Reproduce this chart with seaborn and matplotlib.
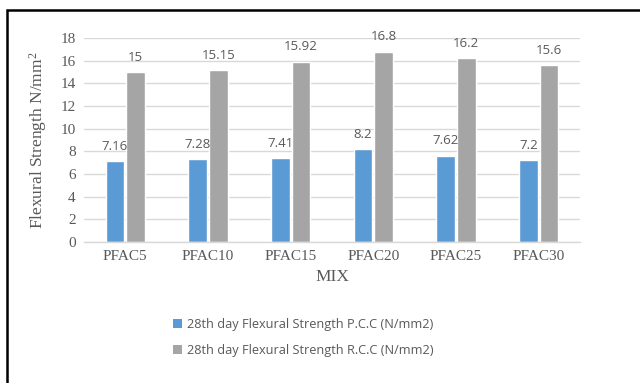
import matplotlib
matplotlib.use("Agg")
import matplotlib.pyplot as plt
from matplotlib.patches import Rectangle, Patch
import seaborn as sns
import pandas as pd

mixes = ["PFAC5", "PFAC10", "PFAC15", "PFAC20", "PFAC25", "PFAC30"]
pcc = [7.16, 7.28, 7.41, 8.2, 7.62, 7.2]
rcc = [15, 15.15, 15.92, 16.8, 16.2, 15.6]
series_names = ["28th day Flexural Strength P.C.C (N/mm2)",
                "28th day Flexural Strength R.C.C (N/mm2)"]
value_labels_pcc = ["7.16", "7.28", "7.41", "8.2", "7.62", "7.2"]
value_labels_rcc = ["15", "15.15", "15.92", "16.8", "16.2", "15.6"]

df = pd.DataFrame({
    "MIX": mixes * 2,
    "value": pcc + rcc,
    "series": [series_names[0]] * len(mixes) + [series_names[1]] * len(mixes),
})

sns.set_theme(style="white")
plt.rcParams["mathtext.fontset"] = "custom"
plt.rcParams["mathtext.rm"] = "Liberation Serif"
plt.rcParams["mathtext.it"] = "Liberation Serif:italic"

text_grey = "#595959"
grid_grey = "#D9D9D9"
colors = ["#5B9BD5", "#A5A5A5"]

fig = plt.figure(figsize=(6.4, 3.83), dpi=100)
ax = fig.add_axes([84 / 640, 1 - 242 / 383, 496 / 640, 204 / 383])

sns.barplot(data=df, x="MIX", y="value", hue="series", hue_order=series_names,
            palette=colors, width=0.5, gap=0.1, saturation=1, ax=ax,
            legend=False, errorbar=None)

ax.set_ylim(0, 18)
ax.set_yticks(range(0, 19, 2))
ax.set_xlim(-0.5, len(mixes) - 0.5)
ax.yaxis.grid(True, color=grid_grey, linewidth=1)
ax.set_axisbelow(True)
for s in ["top", "right", "left"]:
    ax.spines[s].set_visible(False)
ax.spines["bottom"].set_color(grid_grey)
ax.spines["bottom"].set_linewidth(1)
ax.tick_params(axis="both", length=0, colors=text_grey, labelsize=11, pad=6)
for lab in ax.get_xticklabels() + ax.get_yticklabels():
    lab.set_fontfamily("Liberation Serif")

ax.set_xlabel("MIX", fontfamily="Liberation Serif", fontsize=12.5,
              color=text_grey, labelpad=4)
ax.set_ylabel(r"Flexural Strength N/mm$^\mathrm{2}$", fontfamily="Liberation Serif",
              fontsize=12.5, color=text_grey, labelpad=8)

# value labels above each bar
for container, labels in zip(ax.containers, [value_labels_pcc, value_labels_rcc]):
    ax.bar_label(container, labels=labels, padding=6, fontsize=9.5,
                 color=text_grey, fontfamily="Open Sans")

handles = [Patch(facecolor=c, edgecolor="none") for c in colors]
fig.legend(handles, series_names, loc="upper left",
           bbox_to_anchor=(168 / 640, 1 - 313 / 383), frameon=False,
           prop={"family": "Open Sans", "size": 9.2}, labelcolor=text_grey,
           handlelength=0.7, handleheight=0.7, handletextpad=0.35,
           labelspacing=1.0, borderaxespad=0)

# outer frame
fig.add_artist(Rectangle((7 / 640, -0.05), 1.0, 1 - 10 / 383 + 0.05,
                         transform=fig.transFigure, fill=False,
                         edgecolor="black", linewidth=1.8, clip_on=False))

fig.savefig("out.png", dpi=100, facecolor="white")
